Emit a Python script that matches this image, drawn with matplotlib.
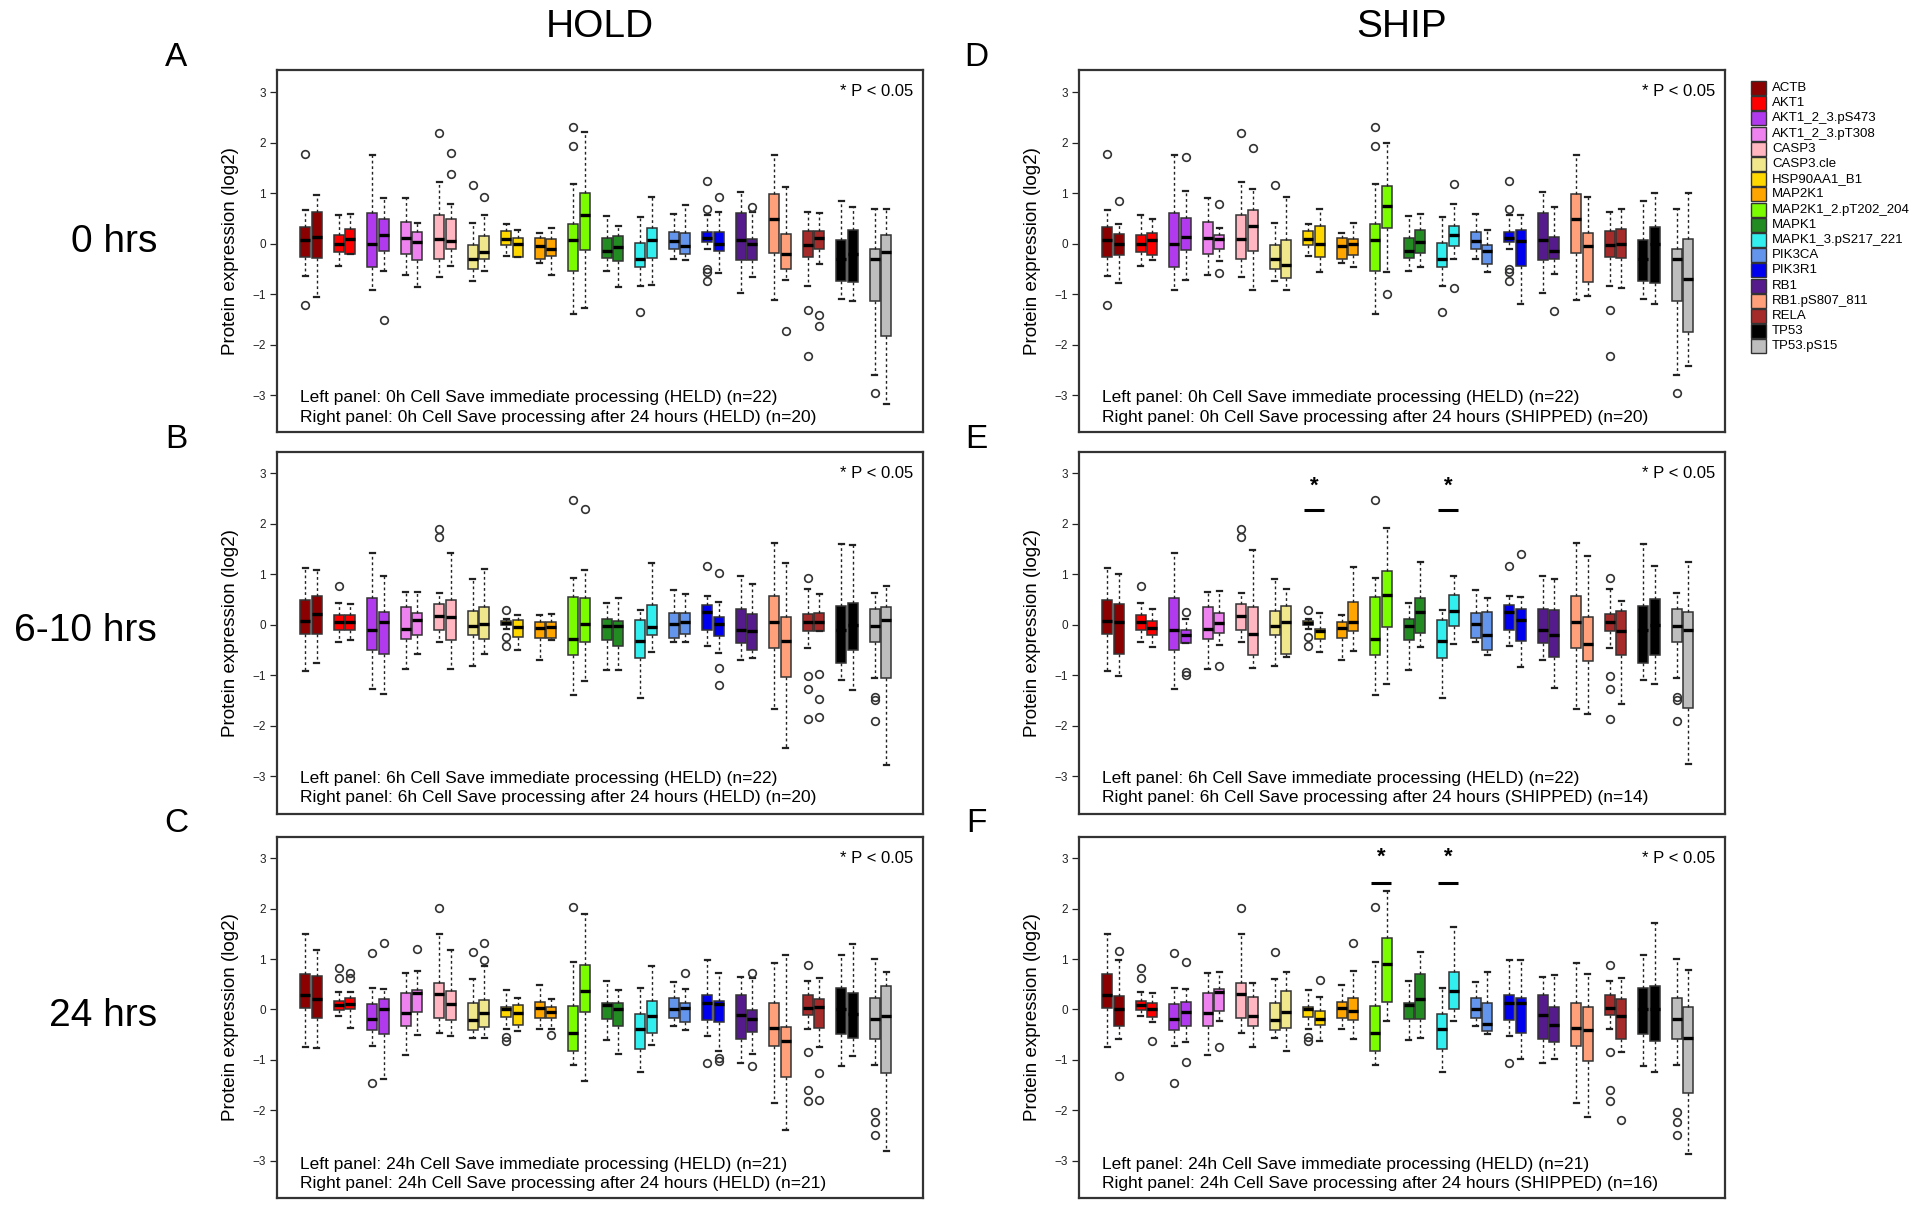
import matplotlib.pyplot as plt
from matplotlib.patches import Rectangle

plt.rcParams['font.family'] = ['Liberation Sans', 'DejaVu Sans']

proteins = ['ACTB', 'AKT1', 'AKT1_2_3.pS473', 'AKT1_2_3.pT308', 'CASP3', 'CASP3.cle',
            'HSP90AA1_B1', 'MAP2K1', 'MAP2K1_2.pT202_204', 'MAPK1', 'MAPK1_3.pS217_221',
            'PIK3CA', 'PIK3R1', 'RB1', 'RB1.pS807_811', 'RELA', 'TP53', 'TP53.pS15']
colors = ['#8B0000', '#FF0000', '#B23AEE', '#EE82EE', '#FFB6C1', '#F0E68C',
          '#FFD700', '#FFA500', '#7CFC00', '#228B22', '#33EEEE', '#6495ED',
          '#0000EE', '#551A8B', '#FFA07A', '#A52A2A', '#000000', '#BEBEBE']

# (whisker low, Q1, median, Q3, whisker high) per protein, log2
held_0h = [(-0.65, -0.26, 0.07, 0.33, 0.66), (-0.45, -0.17, 0.0, 0.18, 0.56),
           (-0.92, -0.46, -0.01, 0.61, 1.75), (-0.63, -0.21, 0.12, 0.42, 0.90),
           (-0.66, -0.31, 0.09, 0.56, 1.22), (-0.73, -0.50, -0.31, -0.02, 0.41),
           (-0.25, -0.03, 0.10, 0.25, 0.38), (-0.38, -0.31, -0.05, 0.11, 0.22),
           (-1.40, -0.54, 0.08, 0.38, 1.19), (-0.54, -0.28, -0.15, 0.11, 0.54),
           (-0.83, -0.46, -0.30, 0.01, 0.53), (-0.30, -0.11, 0.05, 0.23, 0.58),
           (-0.10, 0.03, 0.11, 0.23, 0.56), (-0.98, -0.32, 0.07, 0.61, 1.02),
           (-1.11, -0.18, 0.48, 0.98, 1.75), (-0.84, -0.26, -0.03, 0.25, 0.63),
           (-1.09, -0.74, -0.30, 0.07, 0.84), (-2.61, -1.14, -0.31, -0.10, 0.69)]
held_0h_out = [[1.78, -1.22], [], [], [], [2.19], [1.16], [], [], [2.32, 1.93], [],
               [-1.35], [], [1.25, 0.69, -0.50, -0.56, -0.73], [], [], [-1.32, -2.23], [], [-2.95]]

hold_0h = [(-1.06, -0.28, 0.13, 0.63, 0.96), (-0.20, -0.20, 0.09, 0.30, 0.59),
           (-0.54, -0.15, 0.17, 0.48, 0.91), (-0.86, -0.33, 0.03, 0.23, 0.40),
           (-0.45, -0.11, 0.05, 0.48, 0.78), (-0.54, -0.31, -0.17, 0.15, 0.56),
           (-0.26, -0.26, -0.01, 0.11, 0.28), (-0.63, -0.24, -0.10, 0.10, 0.31),
           (-1.27, -0.13, 0.56, 1.01, 2.21), (-0.86, -0.35, -0.07, 0.15, 0.36),
           (-0.81, -0.28, 0.07, 0.32, 0.92), (-0.33, -0.20, -0.05, 0.22, 0.76),
           (-0.59, -0.15, 0.0, 0.23, 0.63), (-0.66, -0.32, 0.0, 0.09, 0.63),
           (-0.71, -0.50, -0.20, 0.20, 1.12), (-0.41, -0.11, 0.12, 0.25, 0.61),
           (-1.14, -0.76, -0.20, 0.28, 0.73), (-3.17, -1.82, -0.17, 0.18, 0.69)]
hold_0h_out = [[], [], [-1.52], [], [1.80, 1.39], [0.92], [], [], [], [],
               [], [], [0.92], [0.73], [-1.73], [-1.42, -1.63], [], []]

ship_0h = [(-0.78, -0.22, 0.0, 0.20, 0.38), (-0.32, -0.23, 0.08, 0.21, 0.49),
           (-0.72, -0.12, 0.13, 0.51, 1.05), (-0.35, -0.11, 0.09, 0.18, 0.31),
           (-0.91, -0.15, 0.36, 0.67, 1.09), (-0.91, -0.68, -0.43, 0.07, 0.93),
           (-0.56, -0.26, 0.0, 0.36, 0.68), (-0.47, -0.22, 0.0, 0.09, 0.41),
           (-0.57, 0.31, 0.75, 1.15, 2.00), (-0.47, -0.18, 0.03, 0.28, 0.59),
           (-0.30, -0.04, 0.18, 0.36, 0.79), (-0.57, -0.41, -0.15, -0.02, 0.28),
           (-1.20, -0.45, 0.05, 0.28, 0.57), (-0.61, -0.30, -0.15, 0.13, 0.72),
           (-1.03, -0.76, -0.05, 0.21, 0.92), (-0.88, -0.28, 0.0, 0.29, 0.68),
           (-1.20, -0.78, 0.0, 0.33, 1.01), (-2.42, -1.75, -0.69, 0.10, 1.01)]
ship_0h_out = [[0.85], [], [1.71], [0.79, -0.58], [1.90], [], [], [], [-0.99], [],
               [1.18, -0.88], [], [], [-1.34], [], [], [], []]

held_6h = [(-0.91, -0.18, 0.07, 0.49, 1.13), (-0.35, -0.10, 0.05, 0.19, 0.42),
           (-1.27, -0.50, -0.10, 0.53, 1.41), (-0.87, -0.29, -0.08, 0.35, 0.65),
           (-0.35, -0.10, 0.17, 0.40, 0.63), (-0.82, -0.20, -0.02, 0.28, 0.90),
           (-0.08, -0.01, 0.03, 0.07, 0.12), (-0.69, -0.27, -0.07, 0.05, 0.20),
           (-1.40, -0.60, -0.29, 0.55, 0.93), (-0.90, -0.31, -0.03, 0.12, 0.42),
           (-1.45, -0.67, -0.33, 0.09, 0.30), (-0.35, -0.27, 0.02, 0.23, 0.69),
           (-0.42, -0.11, 0.25, 0.39, 0.57), (-0.70, -0.37, -0.10, 0.32, 0.97),
           (-1.67, -0.47, 0.05, 0.57, 1.61), (-0.47, -0.13, 0.05, 0.22, 0.70),
           (-1.10, -0.75, -0.10, 0.37, 1.60), (-1.05, -0.35, -0.03, 0.31, 0.62)]
held_6h_out = [[], [0.77], [], [], [1.90, 1.73], [], [0.29, -0.25, -0.43], [], [2.47], [],
               [], [], [1.17], [], [], [0.93, -1.02, -1.27, -1.87], [], [-1.43, -1.50, -1.90]]

hold_6h = [(-0.75, -0.18, 0.21, 0.57, 1.09), (-0.30, -0.10, 0.05, 0.19, 0.40),
           (-1.37, -0.59, 0.05, 0.25, 0.97), (-0.58, -0.20, 0.09, 0.23, 0.65),
           (-0.88, -0.31, 0.15, 0.49, 1.41), (-0.58, -0.28, 0.02, 0.35, 1.11),
           (-0.50, -0.25, -0.05, 0.10, 0.19), (-0.30, -0.27, -0.05, 0.05, 0.21),
           (-1.11, -0.35, 0.02, 0.52, 1.09), (-0.89, -0.42, -0.03, 0.07, 0.52),
           (-0.55, -0.20, -0.05, 0.38, 1.23), (-0.35, -0.19, 0.05, 0.23, 0.60),
           (-0.57, -0.22, 0.02, 0.15, 0.45), (-0.67, -0.51, -0.13, 0.22, 0.80),
           (-2.45, -1.03, -0.33, 0.15, 1.23), (-0.13, -0.13, 0.05, 0.23, 0.60),
           (-1.29, -0.50, 0.0, 0.43, 1.58), (-2.77, -1.05, 0.09, 0.35, 0.77)]
hold_6h_out = [[], [], [], [], [], [], [], [], [2.30], [],
               [], [], [1.02, -0.85, -1.20], [], [], [-0.97, -1.47, -1.83], [], []]

ship_6h = [(-1.02, -0.59, 0.05, 0.40, 1.01), (-0.44, -0.21, -0.07, 0.07, 0.32),
           (-0.36, -0.36, -0.21, -0.11, 0.12), (-0.41, -0.17, 0.04, 0.24, 0.67),
           (-0.86, -0.61, -0.18, 0.35, 1.47), (-0.64, -0.59, 0.05, 0.37, 0.70),
           (-0.54, -0.28, -0.13, -0.09, 0.24), (-0.52, -0.13, 0.05, 0.45, 1.14),
           (-1.17, -0.05, 0.59, 1.06, 1.91), (-0.44, -0.16, 0.26, 0.53, 1.24),
           (-0.38, -0.03, 0.28, 0.58, 0.96), (-0.61, -0.51, -0.21, 0.25, 0.53),
           (-0.84, -0.33, 0.09, 0.32, 0.55), (-1.25, -0.64, -0.21, 0.30, 0.91),
           (-1.76, -0.71, -0.38, 0.15, 1.36), (-1.58, -0.61, -0.13, 0.27, 0.46),
           (-1.17, -0.61, 0.0, 0.51, 1.17), (-2.75, -1.66, -0.11, 0.25, 1.24)]
ship_6h_out = [[], [], [0.25, -0.94, -1.00], [-0.81], [], [], [], [], [], [],
               [], [], [1.39], [], [], [], [], []]

held_24h = [(-0.74, 0.02, 0.28, 0.70, 1.49), (-0.13, -0.01, 0.09, 0.17, 0.34),
            (-0.73, -0.41, -0.19, 0.10, 0.43), (-0.91, -0.32, -0.07, 0.33, 0.73),
            (-0.46, -0.17, 0.30, 0.53, 1.49), (-0.56, -0.40, -0.21, 0.13, 0.60),
            (-0.38, -0.15, 0.01, 0.05, 0.38), (-0.38, -0.17, 0.03, 0.15, 0.48),
            (-1.11, -0.83, -0.46, 0.07, 0.94), (-0.60, -0.18, 0.08, 0.13, 0.56),
            (-1.25, -0.79, -0.38, -0.10, 0.43), (-0.33, -0.17, 0.0, 0.23, 0.54),
            (-0.53, -0.20, 0.13, 0.28, 0.98), (-1.06, -0.58, -0.12, 0.28, 0.64),
            (-1.85, -0.73, -0.36, 0.13, 0.93), (-0.38, -0.11, 0.03, 0.28, 0.56),
            (-1.13, -0.48, 0.0, 0.43, 1.08), (-1.11, -0.58, -0.19, 0.23, 1.01)]
held_24h_out = [[], [0.83, 0.62], [1.11, -1.46], [], [2.02], [1.13], [-0.55, -0.62], [], [2.03], [],
                [], [], [-1.06], [], [], [0.89, -0.85, -1.60, -1.82], [], [-2.04, -2.24, -2.50]]

hold_24h = [(-0.77, -0.17, 0.20, 0.66, 1.18), (-0.36, 0.0, 0.10, 0.23, 0.34),
            (-1.38, -0.48, 0.0, 0.21, 0.40), (-0.51, -0.05, 0.33, 0.38, 0.77),
            (-0.53, -0.21, 0.10, 0.36, 1.18), (-0.56, -0.34, -0.08, 0.19, 0.86),
            (-0.43, -0.30, -0.07, 0.09, 0.22), (-0.38, -0.17, -0.05, 0.05, 0.20),
            (-1.42, -0.05, 0.36, 0.89, 1.89), (-0.89, -0.33, 0.0, 0.12, 0.38),
            (-0.70, -0.46, -0.13, 0.17, 0.87), (-0.40, -0.25, 0.02, 0.12, 0.40),
            (-0.83, -0.25, 0.10, 0.17, 0.73), (-0.89, -0.45, -0.19, -0.01, 0.63),
            (-2.40, -1.34, -0.63, -0.34, 1.07), (-0.74, -0.36, 0.05, 0.21, 0.63),
            (-0.93, -0.56, -0.10, 0.33, 1.29), (-2.81, -1.27, -0.13, 0.46, 0.74)]
hold_24h_out = [[], [0.73, 0.62], [1.32], [1.19], [], [1.32, 0.99], [], [-0.50], [], [],
                [], [0.72], [-0.96, -1.03], [0.73, -1.13], [], [-1.27, -1.80], [], []]

ship_24h = [(-0.59, -0.32, 0.0, 0.26, 0.98), (-0.25, -0.15, 0.0, 0.12, 0.32),
            (-0.64, -0.32, -0.06, 0.15, 0.40), (-0.23, -0.03, 0.35, 0.40, 0.75),
            (-0.74, -0.32, -0.13, 0.25, 0.53), (-0.83, -0.36, -0.05, 0.37, 0.74),
            (-0.63, -0.30, -0.18, -0.03, 0.24), (-0.59, -0.21, -0.03, 0.22, 0.77),
            (-0.23, 0.15, 0.91, 1.42, 2.34), (-0.56, -0.19, 0.21, 0.70, 1.13),
            (-0.23, 0.0, 0.37, 0.75, 1.63), (-0.49, -0.42, -0.28, 0.13, 0.75),
            (-0.99, -0.46, 0.12, 0.22, 0.99), (-0.99, -0.64, -0.30, 0.05, 0.68),
            (-2.13, -1.02, -0.40, 0.05, 0.70), (-0.84, -0.58, -0.13, 0.20, 0.62),
            (-1.24, -0.63, 0.0, 0.46, 1.71), (-2.86, -1.66, -0.56, 0.04, 0.79)]
ship_24h_out = [[1.16, -1.32], [-0.62], [0.95, -1.04], [-0.74], [], [], [0.58], [1.31], [], [],
                [], [], [], [], [], [-2.19], [], []]

# significant pairs (1-based protein index)
sig_6h = [7, 11]
sig_24h = [9, 11]

row_labels = ['0 hrs', '6-10 hrs', '24 hrs']

# figure layout in pixels (1920 x 1205)
W, H = 1920, 1205
col_left = [277, 1079]
col_width = 646
row_top_bot = [(70, 432), (452, 814), (837, 1198)]
row_label_y = [242, 631, 1016]
row_ylim = [(-3.73, 3.44), (-3.75, 3.42), (-3.74, 3.42)]
text_y = [(-3.05, -3.44), (-3.04, -3.43), (-3.07, -3.46)]

fig = plt.figure(figsize=(19.2, 12.05), dpi=100)


def to_stats(boxes, outs):
    res = []
    for (lo, q1, med, q3, hi), fl in zip(boxes, outs):
        res.append(dict(whislo=lo, q1=q1, med=med, q3=q3, whishi=hi, fliers=fl))
    return res


def draw_panel(ax, left, left_out, right, right_out, ylim, lines, ty, sig=None):
    n = len(proteins)
    pos = list(range(1, n + 1))
    for boxes, outs, off in [(left, left_out, -0.175), (right, right_out, 0.175)]:
        bp = ax.bxp(to_stats(boxes, outs), positions=[p + off for p in pos], widths=0.30,
                    capwidths=0.15, patch_artist=True, manage_ticks=False,
                    boxprops=dict(edgecolor='#333333', linewidth=1.1),
                    whiskerprops=dict(color='#222222', linewidth=1.0, linestyle=(0, (2, 2))),
                    capprops=dict(color='#222222', linewidth=1.6),
                    medianprops=dict(color='black', linewidth=2.4, solid_capstyle='butt'),
                    flierprops=dict(marker='o', markersize=5.5, markerfacecolor='none',
                                    markeredgecolor='#333333', markeredgewidth=1.2))
        for patch, c in zip(bp['boxes'], colors):
            patch.set_facecolor(c)
    ax.set_xlim(-0.015, 19.27)
    ax.set_ylim(*ylim)
    ax.set_xticks([])
    ax.set_yticks([-3, -2, -1, 0, 1, 2, 3])
    ax.tick_params(axis='y', direction='out', length=5, width=0.9, labelsize=8.5,
                   colors='#222222', pad=3)
    for s in ax.spines.values():
        s.set_linewidth(1.6)
        s.set_color('#333333')
    ax.text(-0.072, 0.5, 'Protein expression (log2)', transform=ax.transAxes,
            rotation=90, ha='center', va='center', fontsize=13.5)
    ax.text(1 - 10 / col_width, 1 - 22 / (ylim[1] - ylim[0]) / 50.5,
            '* P < 0.05', transform=ax.transAxes, ha='right', va='center', fontsize=12)
    ax.text(23 / col_width, ty[0], lines[0], transform=ax.get_yaxis_transform(),
            ha='left', va='center', fontsize=12.5)
    ax.text(23 / col_width, ty[1], lines[1], transform=ax.get_yaxis_transform(),
            ha='left', va='center', fontsize=12.5)
    if sig:
        idx, bar_y, star_y = sig
        for i in idx:
            ax.plot([i - 0.31, i + 0.31], [bar_y, bar_y], color='black', linewidth=2.2,
                    solid_capstyle='butt')
            ax.text(i, star_y, '*', ha='center', va='center', fontsize=16, fontweight='bold')


panels = [
    ('A', 0, 0, held_0h, held_0h_out, hold_0h, hold_0h_out,
     ['Left panel: 0h Cell Save immediate processing (HELD) (n=22)',
      'Right panel: 0h Cell Save processing after 24 hours (HELD) (n=20)'], None),
    ('D', 0, 1, held_0h, held_0h_out, ship_0h, ship_0h_out,
     ['Left panel: 0h Cell Save immediate processing (HELD) (n=22)',
      'Right panel: 0h Cell Save processing after 24 hours (SHIPPED) (n=20)'], None),
    ('B', 1, 0, held_6h, held_6h_out, hold_6h, hold_6h_out,
     ['Left panel: 6h Cell Save immediate processing (HELD) (n=22)',
      'Right panel: 6h Cell Save processing after 24 hours (HELD) (n=20)'], None),
    ('E', 1, 1, held_6h, held_6h_out, ship_6h, ship_6h_out,
     ['Left panel: 6h Cell Save immediate processing (HELD) (n=22)',
      'Right panel: 6h Cell Save processing after 24 hours (SHIPPED) (n=14)'],
     (sig_6h, 2.27, 2.74)),
    ('C', 2, 0, held_24h, held_24h_out, hold_24h, hold_24h_out,
     ['Left panel: 24h Cell Save immediate processing (HELD) (n=21)',
      'Right panel: 24h Cell Save processing after 24 hours (HELD) (n=21)'], None),
    ('F', 2, 1, held_24h, held_24h_out, ship_24h, ship_24h_out,
     ['Left panel: 24h Cell Save immediate processing (HELD) (n=21)',
      'Right panel: 24h Cell Save processing after 24 hours (SHIPPED) (n=16)'],
     (sig_24h, 2.50, 3.01)),
]

for letter, r, c, lb, lo_, rb, ro_, lines, sig in panels:
    top, bot = row_top_bot[r]
    ax = fig.add_axes([col_left[c] / W, 1 - bot / H, col_width / W, (bot - top) / H])
    draw_panel(ax, lb, lo_, rb, ro_, row_ylim[r], lines, text_y[r], sig)
    fig.text([176, 976][c] / W, 1 - (top - 13) / H, letter, ha='center', va='center',
             fontsize=24)

# column titles and row labels
fig.text(600 / W, 1 - 27 / H, 'HOLD', ha='center', va='center', fontsize=28)
fig.text(1402 / W, 1 - 27 / H, 'SHIP', ha='center', va='center', fontsize=28)
for yl, lab in zip(row_label_y, row_labels):
    fig.text(157 / W, 1 - yl / H, lab, ha='right', va='center', fontsize=28)

# legend drawn in pixel units
lax = fig.add_axes([1740 / W, 1 - 365 / H, 180 / W, 290 / H])
lax.set_xlim(1740, 1920)
lax.set_ylim(365, 75)
lax.axis('off')
for i, (name, c) in enumerate(zip(proteins, colors)):
    yc = 88 + 15.2 * i
    lax.add_patch(Rectangle((1751, yc - 7), 15, 14, facecolor=c, edgecolor='#333333',
                            linewidth=1.0))
    lax.text(1772, yc, name, ha='left', va='center', fontsize=9.5)

fig.savefig('out.png', dpi=100)
